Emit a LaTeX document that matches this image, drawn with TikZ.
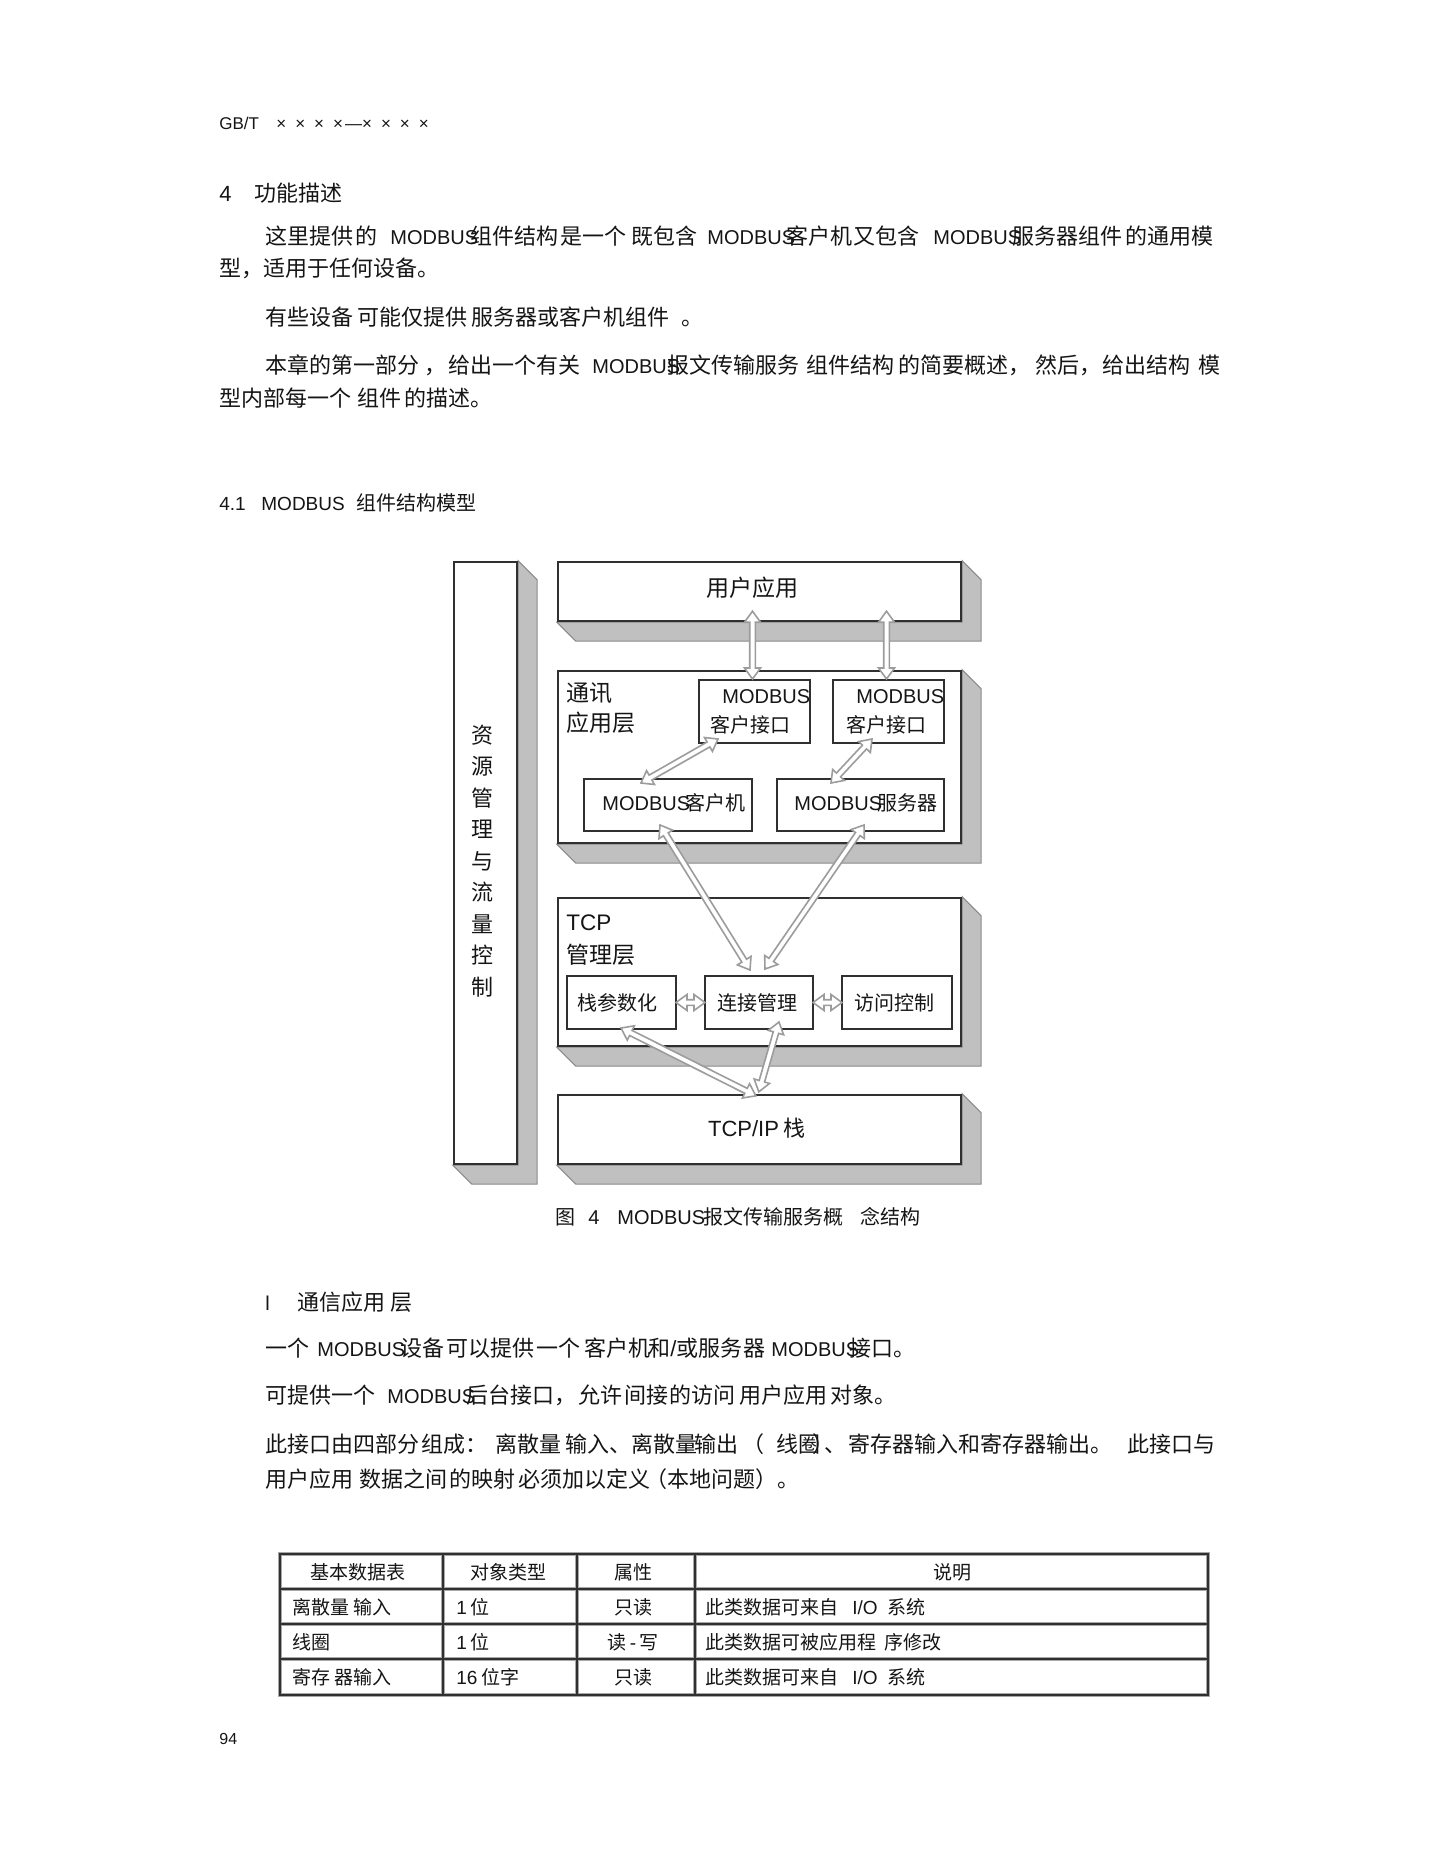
\documentclass[tikz,border=0pt]{standalone}
\usepackage{fontspec}
\setmainfont{Noto Sans CJK SC}
\newfontfamily\lat{Liberation Sans}
\usetikzlibrary{calc,fit}
\pgfdeclarelayer{back}
\pgfdeclarelayer{bg}
\pgfsetlayers{back,bg,main}
\definecolor{shadowgray}{HTML}{C0C0C0}
\definecolor{shadowline}{HTML}{8A8A8A}
\definecolor{boxline}{HTML}{303030}
\definecolor{arrowline}{HTML}{9C9C9C}
\definecolor{ink}{HTML}{151515}
\definecolor{halo}{HTML}{A8A8A8}
\newcommand\MB{{\lat\fontsize{10}{12}\selectfont MODBUS}}
\tikzset{
  box/.style={draw=boxline, line width=1.2pt, fill=white, inner sep=0pt},
  ibox/.style={draw=boxline, line width=1pt, fill=white, inner sep=0pt},
  tx/.style={anchor=base west, inner sep=0pt, text=ink, font=\fontsize{11}{13}\selectfont},
  lt/.style={anchor=base west, inner sep=0pt, text=ink, font=\lat\fontsize{10}{12}\selectfont},
  dcj/.style={inner sep=0pt, text=ink, font=\fontsize{11.5}{14}\selectfont},
  dsm/.style={inner sep=0pt, text=ink, font=\fontsize{10}{12}\selectfont},
  dlt/.style={inner sep=0pt, text=ink, font=\lat\fontsize{10}{12}\selectfont},
  captx/.style={anchor=base west, inner sep=0pt, text=ink, font=\fontsize{10}{12}\selectfont},
  capl/.style={anchor=base west, inner sep=0pt, text=ink, font=\lat\fontsize{10}{12}\selectfont},
  tb/.style={anchor=base west, inner sep=0pt, text=ink, font=\fontsize{9.5}{11}\selectfont},
  tbc/.style={anchor=base, inner sep=0pt, text=ink, font=\fontsize{9.5}{11}\selectfont},
  thalo/.style={draw=halo, line width=1.7pt},
  tline/.style={draw=boxline, line width=0.7pt},
  arrowfill/.style={fill=white, draw=arrowline, line width=0.8pt, line join=miter},
}
\newcommand\boxshadow[1]{%
  \filldraw[fill=shadowgray, draw=shadowline, line width=0.5pt]
    (#1.north east) -- ++(19,19) -- ($(#1.south east)+(19,19)$)
    -- ($(#1.south west)+(19,19)$) -- (#1.south west) -- (#1.south east) -- cycle;}
\newcommand\hollowarrow[2]{%
  \coordinate (ha) at (#1); \coordinate (hb) at (#2);
  \coordinate (ha1) at ($(ha)!5.5pt!(hb)$);
  \coordinate (hb1) at ($(hb)!5.5pt!(ha)$);
  \filldraw[arrowfill] (ha) -- ($(ha1)!4pt!90:(hb)$) -- ($(ha1)!1.4pt!90:(hb)$)
    -- ($(hb1)!1.4pt!-90:(ha)$) -- ($(hb1)!4pt!-90:(ha)$) -- (hb)
    -- ($(hb1)!4pt!90:(ha)$) -- ($(hb1)!1.4pt!90:(ha)$)
    -- ($(ha1)!1.4pt!-90:(hb)$) -- ($(ha1)!4pt!-90:(hb)$) -- cycle;}
\begin{document}
\begin{tikzpicture}[x=0.5pt,y=-0.5pt]
\begin{pgfonlayer}{back}
\fill[white] (0,0) rectangle (1435,1858);
\end{pgfonlayer}
\useasboundingbox (0,0) rectangle (1435,1858);

% ---------- header and first text block ----------
\node[lt, font=\lat\fontsize{8.5}{10}\selectfont] (hdA) at (219,129) {GB/T};
\node[lt, font=\lat\fontsize{8.5}{10}\selectfont] (hdB) at (276,129) {×\hspace{4.5pt}×\hspace{4.5pt}×\hspace{4.5pt}×\hspace{1pt}—×\hspace{4.5pt}×\hspace{4.5pt}×\hspace{4.5pt}×};

\node[lt, font=\lat\fontsize{11}{13}\selectfont] (s4a) at (219,201) {4};
\node[tx] (s4b) at (254,201) {功能描述};

\node[tx] (p1a) at (265,244) {这里提供};
\node[tx] (p1b) at (355,244) {的};
\node[tx] (p1c) at (390,244) {\MB\hspace{-4pt}组件结构};
\node[tx] (p1e) at (560,244) {是一个};
\node[tx] (p1f) at (631,244) {既包含};
\node[tx] (p1g) at (707,244) {\MB\hspace{-4.5pt}客户机};
\node[tx] (p1i) at (853,244) {又包含};
\node[tx] (p1j) at (933,244) {\MB\hspace{-4.5pt}服务器组件};
\node[tx] (p1l) at (1125,244) {的通用模};

\node[tx] (p2a) at (219,276) {型，适用于任何设备。};

\node[tx] (p3a) at (265,325) {有些设备};
\node[tx] (p3b) at (357,325) {可能仅提供};
\node[tx] (p3c) at (471,325) {服务器或客户机组件};
\node[tx] (p3d) at (681,325) {。};

\node[tx] (p4a) at (265,373) {本章的第一部分};
\node[tx] (p4b) at (424,373) {，};
\node[tx] (p4c) at (448,373) {给出一个有关};
\node[tx] (p4d) at (592,373) {\MB\hspace{-6.5pt}报文传输服务};
\node[tx] (p4f) at (806,373) {组件结构};
\node[tx] (p4g) at (898,373) {的简要概述，};
\node[tx] (p4h) at (1035,373) {然后，};
\node[tx] (p4i) at (1102,373) {给出结构};
\node[tx] (p4j) at (1198,373) {模};

\node[tx] (p5a) at (219,406) {型内部每一个};
\node[tx] (p5b) at (357,406) {组件};
\node[tx] (p5c) at (404,406) {的描述。};

\node[lt, font=\lat\fontsize{9.5}{11}\selectfont] (s41a) at (219,510) {4.1};
\node[lt, font=\lat\fontsize{9.5}{11}\selectfont] (s41b) at (261,510) {MODBUS};
\node[tx, font=\fontsize{10}{12}\selectfont] (s41c) at (356,510) {组件结构模型};

% ---------- diagram boxes ----------
\node[box, fit={(454,562) (517,1164)}] (res) {};
\node[box, fit={(558,562) (961,621)}] (top) {};
\node[box, fit={(558,671) (961,843)}] (comm) {};
\node[ibox, fit={(699,680) (810,743)}] (cif1) {};
\node[ibox, fit={(833,680) (944,743)}] (cif2) {};
\node[ibox, fit={(584,779) (752,831)}] (cli) {};
\node[ibox, fit={(777,779) (944,831)}] (srv) {};
\node[box, fit={(558,898) (961,1046)}] (tcp) {};
\node[ibox, fit={(567,976) (676,1029)}] (stk) {};
\node[ibox, fit={(705,976) (813,1029)}] (conn) {};
\node[ibox, fit={(842,976) (952,1029)}] (acc) {};
\node[box, fit={(558,1095) (961,1164)}] (ip) {};

\begin{pgfonlayer}{bg}
\boxshadow{res}
\boxshadow{top}
\boxshadow{comm}
\boxshadow{tcp}
\boxshadow{ip}
\end{pgfonlayer}

% ---------- diagram labels ----------
\node[dcj, align=center, font=\fontsize{11}{15.75}\selectfont] (restxt) at (482,861) {资\\源\\管\\理\\与\\流\\量\\控\\制};
\node[dcj] (toptxt) at (752,588) {用户应用};
\node[dcj, anchor=west] (commA) at (566,693) {通讯};
\node[dcj, anchor=west] (commB) at (566,723) {应用层};
\node[dlt, anchor=west] (cif1a) at (722,697) {MODBUS};
\node[dsm, anchor=west] (cif1b) at (710,725) {客户接口};
\node[dlt, anchor=west] (cif2a) at (856,697) {MODBUS};
\node[dsm, anchor=west] (cif2b) at (846,725) {客户接口};
\node[dsm, anchor=west] (clitxt) at (602,803) {\MB\hspace{-2.5pt}客户机};
\node[dsm, anchor=west] (srvtxt) at (794,803) {\MB\hspace{-2.5pt}服务器};
\node[dlt, anchor=west, font=\lat\fontsize{11.25}{13}\selectfont] (tcpA) at (566,923) {TCP};
\node[dcj, anchor=west] (tcpB) at (566,955) {管理层};
\node[dsm] (stktxt) at (617,1003) {栈参数化};
\node[dsm] (conntxt) at (757,1003) {连接管理};
\node[dsm] (acctxt) at (894,1003) {访问控制};
\node[dcj, font=\fontsize{11}{13}\selectfont] (iptxt) at (757,1128) {{\lat TCP/IP} 栈};

% ---------- hollow double arrows ----------
\path (cif1.north |- top.south) ++(-2,-11) coordinate (a1s);
\path (cif1.north) ++(-2,0) coordinate (a1e);
\path (cif2.north |- top.south) ++(-2,-11) coordinate (a2s);
\path (cif2.north) ++(-2,0) coordinate (a2e);
\path (cif1.south west) ++(20,-5) coordinate (a3s);
\path (cli.north west) ++(58,5) coordinate (a3e);
\path (cif2.south west) ++(40,-5) coordinate (a4s);
\path (srv.north west) ++(55,5) coordinate (a4e);
\path (cli.south west) ++(77,-7) coordinate (a5s);
\path (conn.north west) ++(46,-5) coordinate (a5e);
\path (srv.south west) ++(88,-7) coordinate (a6s);
\path (conn.north west) ++(61,-6) coordinate (a6e);
\path (stk.east) ++(-1,0) coordinate (a7s);
\path (conn.west) ++(1,0) coordinate (a7e);
\path (conn.east) ++(-1,0) coordinate (a8s);
\path (acc.west) ++(1,0) coordinate (a8e);
\path (stk.south west) ++(55,-2) coordinate (a9s);
\path (ip.north west) ++(199,2) coordinate (a9e);
\path (conn.south west) ++(75,-8) coordinate (a10s);
\path (ip.north west) ++(202,-2) coordinate (a10e);
\hollowarrow{a1s}{a1e}
\hollowarrow{a2s}{a2e}
\hollowarrow{a3s}{a3e}
\hollowarrow{a4s}{a4e}
\hollowarrow{a5s}{a5e}
\hollowarrow{a6s}{a6e}
\hollowarrow{a7s}{a7e}
\hollowarrow{a8s}{a8e}
\hollowarrow{a9s}{a9e}
\hollowarrow{a10s}{a10e}

% ---------- caption ----------
\node[captx] (capA) at (555,1224) {图};
\node[capl] (capB) at (588,1224) {4};
\node[captx] (capC) at (617,1224) {\MB\hspace{-1pt}报文传输服务概};
\node[captx] (capE) at (860,1224) {念结构};

% ---------- lower text ----------
\node[lt] (q1a) at (265,1310) {l};
\node[tx] (q1b) at (297,1310) {通信应用};
\node[tx] (q1c) at (390,1310) {层};

\node[tx] (q2a) at (265,1356) {一个};
\node[tx] (q2b) at (317,1356) {\MB\hspace{-2.5pt}设备};
\node[tx] (q2d) at (446,1356) {可以提供};
\node[tx] (q2e) at (536,1356) {一个};
\node[tx] (q2f) at (584,1356) {客户机};
\node[tx] (q2g) at (648,1356) {和{\lat /}或服务};
\node[tx] (q2h) at (743,1356) {器};
\node[tx] (q2i) at (771,1356) {\MB\hspace{-5pt}接口。};

\node[tx] (q3a) at (265,1403) {可提供一个};
\node[tx] (q3b) at (387,1403) {\MB\hspace{-4.5pt}后台接口，};
\node[tx] (q3d) at (578,1403) {允许};
\node[tx] (q3e) at (624,1403) {间接};
\node[tx] (q3f) at (669,1403) {的访问};
\node[tx] (q3g) at (739,1403) {用户应用};
\node[tx] (q3h) at (830,1403) {对象。};

\node[tx] (q4a) at (265,1452) {此接口由四部分};
\node[tx] (q4b) at (421,1452) {组成：};
\node[tx] (q4c) at (495,1452) {离散量};
\node[tx] (q4d) at (565,1452) {输入、离散量};
\node[tx] (q4e) at (694,1452) {输出};
\node[tx] (q4f) at (742,1452) {（};
\node[tx] (q4g) at (776,1452) {线圈\hspace{-4pt}）\hspace{-5pt}、};
\node[tx] (q4h) at (848,1452) {寄存};
\node[tx] (q4i) at (892,1452) {器输入和寄存器输出。};
\node[tx] (q4j) at (1127,1452) {此接口与};

\node[tx] (q5a) at (265,1487) {用户应用};
\node[tx] (q5b) at (359,1487) {数据之间};
\node[tx] (q5c) at (449,1487) {的映射};
\node[tx] (q5d) at (518,1487) {必须加以定义};
\node[tx] (q5e) at (645,1487) {（本地问题）。};

% ---------- table ----------
\draw[thalo] (280,1554) rectangle (1208,1695);
\foreach \yy in {1589,1624,1659} \draw[thalo] (280,\yy) -- (1208,\yy);
\foreach \xx in {443,577,695} \draw[thalo] (\xx,1554) -- (\xx,1695);
\draw[tline] (280,1554) rectangle (1208,1695);
\foreach \yy in {1589,1624,1659} \draw[tline] (280,\yy) -- (1208,\yy);
\foreach \xx in {443,577,695} \draw[tline] (\xx,1554) -- (\xx,1695);

\node[tbc] (th1) at (358,1579) {基本数据表};
\node[tbc] (th2) at (508,1579) {对象类型};
\node[tbc] (th3) at (633,1579) {属性};
\node[tbc] (th4) at (952,1579) {说明};

\node[tb] (r1a) at (292,1614) {离散量\hspace{2pt}输入};
\node[tb] (r1b) at (456,1614) {{\lat 1}\hspace{2pt}位};
\node[tbc] (r1c) at (633,1614) {只读};
\node[tb] (r1d) at (705,1614) {此类数据可来自\hspace{7pt}{\lat I/O}\hspace{5pt}系统};

\node[tb] (r2a) at (292,1649) {线圈};
\node[tb] (r2b) at (456,1649) {{\lat 1}\hspace{2pt}位};
\node[tbc] (r2c) at (633,1649) {读{\lat\,-\,}写};
\node[tb] (r2d) at (705,1649) {此类数据可被应用程\hspace{4pt}序修改};

\node[tb] (r3a) at (292,1684) {寄存\hspace{2pt}器输入};
\node[tb] (r3b) at (456,1684) {{\lat 16}\hspace{2pt}位字};
\node[tbc] (r3c) at (633,1684) {只读};
\node[tb] (r3d) at (705,1684) {此类数据可来自\hspace{7pt}{\lat I/O}\hspace{5pt}系统};

% ---------- page number ----------
\node[lt, font=\lat\fontsize{8}{10}\selectfont] (pgno) at (219,1744) {94};
\end{tikzpicture}
\end{document}
